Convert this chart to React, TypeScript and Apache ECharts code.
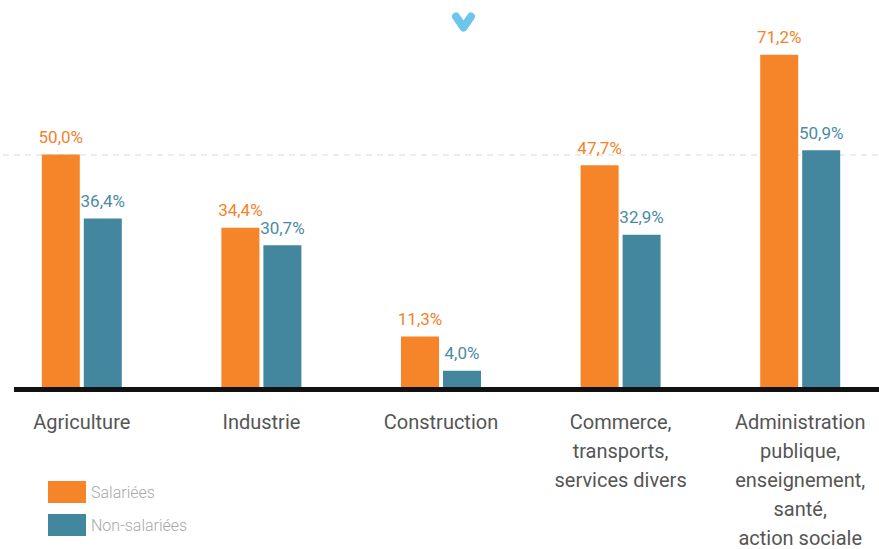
import React, { useEffect, useRef } from "react";
import * as echarts from "echarts";

const categories = [
  "Agriculture",
  "Industrie",
  "Construction",
  "Commerce,\ntransports,\nservices divers",
  "Administration\npublique,\nenseignement,\nsanté,\naction sociale",
];
const seriesNames = ["Salariées", "Non-salariées"];
const salariees = [50.0, 34.4, 11.3, 47.7, 71.2];
const nonSalariees = [36.4, 30.7, 4.0, 32.9, 50.9];
const gridlineValue = 50;

const ORANGE = "#F68428";
const TEAL = "#43879E";
const FONT = "Roboto, 'Liberation Sans', sans-serif";

const fmt = (v: number) => v.toFixed(1).replace(".", ",") + "%";

export default function App() {
  const ref = useRef<HTMLDivElement>(null);
  useEffect(() => {
    if (!ref.current) return;
    const chart = echarts.init(ref.current, null, { renderer: "svg" });
    chart.setOption({
      animation: false,
      textStyle: { fontFamily: FONT },
      grid: {
        left: -8,
        right: -11,
        top: 13.5,
        bottom: 159.5,
        containLabel: false,
        outerBoundsMode: "none",
      },
      legend: {
        orient: "vertical",
        left: 48,
        top: 481,
        padding: 0,
        itemWidth: 38,
        itemHeight: 22,
        itemGap: 11,
        icon: "rect",
        data: seriesNames,
        textStyle: { fontFamily: FONT, fontSize: 16, color: "#a8a8a8", fontWeight: 300 },
      },
      xAxis: {
        type: "category",
        data: categories,
        axisLine: { show: false },
        axisTick: { show: false },
        axisLabel: {
          interval: 0,
          fontSize: 20,
          lineHeight: 29,
          color: "#555555",
          margin: 18,
          fontFamily: FONT,
        },
      },
      yAxis: {
        type: "value",
        min: 0,
        max: 80,
        interval: gridlineValue,
        axisLine: { show: false },
        axisTick: { show: false },
        axisLabel: { show: false },
        splitLine: {
          show: true,
          showMinLine: false,
          showMaxLine: false,
          lineStyle: { color: "#e6e6e6", type: [6, 5], width: 1.5 },
        },
      },
      series: [
        {
          name: seriesNames[0],
          type: "bar",
          data: salariees,
          barWidth: 38,
          barGap: "10.5%",
          itemStyle: { color: ORANGE },
          label: {
            show: true,
            position: "top",
            distance: 9,
            formatter: (p: any) => fmt(p.value),
            color: "#F5822A",
            fontSize: 17,
            fontFamily: FONT,
          },
        },
        {
          name: seriesNames[1],
          type: "bar",
          data: nonSalariees,
          barWidth: 38,
          barGap: "10.5%",
          itemStyle: { color: TEAL },
          label: {
            show: true,
            position: "top",
            distance: 9,
            formatter: (p: any) => fmt(p.value),
            color: "#4A8BA3",
            fontSize: 17,
            fontFamily: FONT,
          },
        },
      ],
      graphic: [
        {
          type: "rect",
          z: 100,
          shape: { x: 14, y: 387, width: 865, height: 5 },
          style: { fill: "#111111" },
        },
        {
          type: "polyline",
          z: 100,
          shape: { points: [[456, 16.5], [463.5, 27.5], [471, 16.5]] },
          style: { stroke: "#6CC5EA", lineWidth: 8, lineCap: "round", lineJoin: "round", fill: "none" },
        },
      ],
    });
    return () => chart.dispose();
  }, []);
  return (
    <div
      ref={ref}
      style={{ position: "fixed", left: 0, top: 0, width: 879, height: 549, background: "#fff" }}
    />
  );
}
